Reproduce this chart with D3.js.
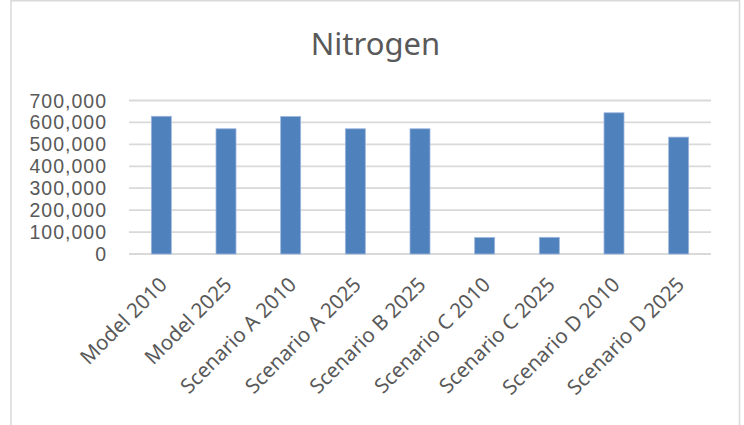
<!DOCTYPE html>
<html><head><meta charset="utf-8">
<script src="https://cdn.jsdelivr.net/npm/d3@7"></script>
<style>body{margin:0;background:#fff;}svg{display:block;}</style>
</head><body>
<svg id="chart" width="744" height="425"></svg>
<script>
const categories = ["Model 2010","Model 2025","Scenario A 2010","Scenario A 2025","Scenario B 2025","Scenario C 2010","Scenario C 2025","Scenario D 2010","Scenario D 2025"];
const values = [628000, 571000, 627000, 571000, 571000, 75000, 76000, 644000, 533000];
const yTicks = [0,100000,200000,300000,400000,500000,600000,700000];
const title = "Nitrogen";

const svg = d3.select("#chart");
const font = "'Noto Sans', 'Open Sans', sans-serif";
const tickFont = "'Liberation Sans', Arial, sans-serif";
const textColor = "#595959";
const gridColor = "#D9D9D9";

// chart border
svg.append("rect").attr("x", 11).attr("y", 0.75).attr("width", 728.5).attr("height", 440)
  .attr("fill", "#fff").attr("stroke", gridColor).attr("stroke-width", 1.5);

const x = d3.scaleBand().domain(categories).range([129, 711]).paddingInner(0.691).paddingOuter(0.3455);
const y = d3.scaleLinear().domain([0, 700000]).range([254, 100.5]);

// gridlines
svg.append("g").selectAll("line").data(yTicks).join("line")
  .attr("x1", 129).attr("x2", 711)
  .attr("y1", d => y(d)).attr("y2", d => y(d))
  .attr("stroke", gridColor).attr("stroke-width", 1.8);

// y labels
const fmt = d3.format(",");
svg.append("g").selectAll("text").data(yTicks).join("text")
  .attr("x", 107).attr("y", d => y(d) + 7)
  .attr("text-anchor", "end")
  .attr("font-family", tickFont).attr("font-size", 19.5).attr("fill", textColor)
  .attr("letter-spacing", 1)
  .text(d => fmt(d));

// bars
svg.append("g").selectAll("rect").data(values).join("rect")
  .attr("x", (d, i) => x(categories[i]))
  .attr("y", d => y(d))
  .attr("width", x.bandwidth())
  .attr("height", d => y(0) - y(d))
  .attr("fill", "#4F81BD")
  .attr("stroke", "#9DB6DC").attr("stroke-width", 0.8);

// x labels
svg.append("g").selectAll("text").data(categories).join("text")
  .attr("transform", d => `translate(${x(d) + x.bandwidth()/2 + 7},${y(0) + 32}) rotate(-45)`)
  .attr("text-anchor", "end")
  .attr("font-family", font).attr("font-size", 20.5).attr("fill", textColor)
  .text(d => d);

// title
svg.append("text").attr("x", 375.5).attr("y", 55)
  .attr("text-anchor", "middle")
  .attr("font-family", font).attr("font-size", 31).attr("fill", textColor)
  .text(title);
</script>
</body></html>
